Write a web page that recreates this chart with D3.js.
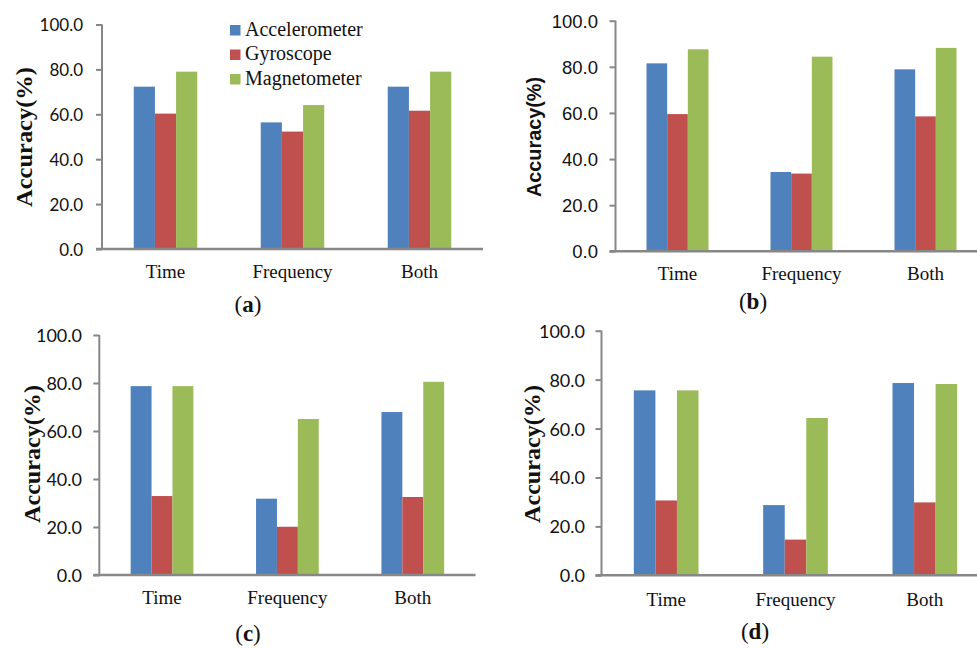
<!DOCTYPE html>
<html>
<head>
<meta charset="utf-8">
<script src="https://cdn.jsdelivr.net/npm/d3@7"></script>
<style>
  html, body { margin: 0; padding: 0; background: #fff; }
  svg { display: block; }
</style>
</head>
<body>
<svg id="chart" width="977" height="648"></svg>
<script>
// ---- data ----
const categories = ["Time", "Frequency", "Both"];
const seriesNames = ["Accelerometer", "Gyroscope", "Magnetometer"];
const yTickValues = [0, 20, 40, 60, 80, 100];
const panelLabels = ["a", "b", "c", "d"];

const accelA = [72.3, 56.4, 72.3];
const gyroA  = [60.3, 52.3, 61.6];
const magA   = [79.0, 64.1, 79.0];

const accelB = [81.5, 34.4, 78.9];
const gyroB  = [59.5, 33.7, 58.5];
const magB   = [87.6, 84.4, 88.2];

const accelC = [78.7, 31.8, 67.9];
const gyroC  = [32.9, 20.1, 32.5];
const magC   = [78.7, 65.0, 80.5];

const accelD = [75.6, 28.7, 78.6];
const gyroD  = [30.6, 14.6, 29.8];
const magD   = [75.6, 64.3, 78.2];

const colors = ["#4F81BD", "#C0504D", "#9BBB59"];
const axisColor = "#878787";

// ---- layout (positions only) ----
const panels = [
  { label: "a", data: [accelA, gyroA, magA], x0: 102, x1: 483, yTop: 24.5, yBot: 249,
    tickFont: "Lato, 'Open Sans', sans-serif", tickSize: 17, tickRight: 83,
    yTitleFont: "'Liberation Serif', 'Times New Roman', serif", yTitleSize: 23, yTitleLen: 140, yTitleX: 23.5, yTitleY: 137,
    catBase: 278, panX: 248, panBase: 312, legend: true },
  { label: "b", data: [accelB, gyroB, magB], x0: 615.5, x1: 987.5, yTop: 20.7, yBot: 251.3,
    tickFont: "'Liberation Sans', Arial, sans-serif", tickSize: 18.5, tickRight: 598,
    yTitleFont: "'Liberation Sans', Arial, sans-serif", yTitleSize: 20, yTitleLen: 120, yTitleX: 533.5, yTitleY: 137,
    catBase: 280, panX: 753, panBase: 309, legend: false },
  { label: "c", data: [accelC, gyroC, magC], x0: 99.3, x1: 475.5, yTop: 335, yBot: 575,
    tickFont: "Lato, 'Open Sans', sans-serif", tickSize: 18, tickRight: 82,
    yTitleFont: "'Liberation Serif', 'Times New Roman', serif", yTitleSize: 23, yTitleLen: 138, yTitleX: 31.7, yTitleY: 454,
    catBase: 604, panX: 248, panBase: 641, legend: false },
  { label: "d", data: [accelD, gyroD, magD], x0: 601.5, x1: 989.5, yTop: 330.7, yBot: 575.3,
    tickFont: "Lato, 'Open Sans', sans-serif", tickSize: 18, tickRight: 585,
    yTitleFont: "'Liberation Serif', 'Times New Roman', serif", yTitleSize: 23, yTitleLen: 138, yTitleX: 531.7, yTitleY: 454,
    catBase: 606, panX: 755, panBase: 639, legend: false }
];

const svg = d3.select("#chart");
const serifFont = "'Liberation Serif', 'Times New Roman', serif";

panels.forEach(p => {
  const g = svg.append("g");
  const x = d3.scaleBand().domain(categories).range([p.x0, p.x1]).paddingInner(0.5).paddingOuter(0.25);
  const xs = d3.scaleBand().domain(seriesNames).range([0, x.bandwidth()]);
  const y = d3.scaleLinear().domain([0, 100]).range([p.yBot, p.yTop]);

  // bars
  seriesNames.forEach((s, si) => {
    g.selectAll(null)
      .data(categories.map((c, ci) => ({ c, v: p.data[si][ci] })))
      .join("rect")
      .attr("x", d => x(d.c) + xs(s))
      .attr("y", d => y(d.v))
      .attr("width", xs.bandwidth())
      .attr("height", d => y(0) - y(d.v))
      .attr("fill", colors[si]);
  });

  // y axis
  const yAxis = d3.axisLeft(y).tickValues(yTickValues).tickSize(6).tickPadding(0)
    .tickFormat(d3.format(".1f"));
  const ya = g.append("g").attr("transform", `translate(${p.x0},0)`).call(yAxis);
  ya.select(".domain").remove();
  ya.selectAll(".tick line").attr("stroke", axisColor).attr("stroke-width", 2);
  ya.selectAll(".tick text")
    .attr("x", p.tickRight - p.x0)
    .attr("text-anchor", "end")
    .attr("dy", "0.36em")
    .attr("fill", "#111")
    .style("font-family", p.tickFont)
    .style("font-size", p.tickSize + "px");
  g.append("line").attr("x1", p.x0).attr("x2", p.x0).attr("y1", p.yTop).attr("y2", p.yBot)
    .attr("stroke", axisColor).attr("stroke-width", 2);

  // x axis
  const xAxis = d3.axisBottom(x).tickSize(0).tickPadding(0);
  const xa = g.append("g").attr("transform", `translate(0,${p.yBot})`).call(xAxis);
  xa.select(".domain").remove();
  xa.selectAll(".tick text")
    .attr("y", p.catBase - p.yBot)
    .attr("dy", 0)
    .attr("fill", "#111")
    .style("font-family", serifFont)
    .style("font-size", "19px");
  g.append("line").attr("x1", p.x0 - 6).attr("x2", p.x1).attr("y1", p.yBot).attr("y2", p.yBot)
    .attr("stroke", axisColor).attr("stroke-width", 2.5);

  // y title
  g.append("text")
    .attr("transform", `translate(${p.yTitleX},${p.yTitleY}) rotate(-90)`)
    .attr("text-anchor", "middle")
    .attr("dy", "0.35em")
    .attr("textLength", p.yTitleLen)
    .attr("lengthAdjust", "spacingAndGlyphs")
    .attr("font-weight", "bold")
    .attr("fill", "#111")
    .style("font-family", p.yTitleFont)
    .style("font-size", p.yTitleSize + "px")
    .text("Accuracy(%)");

  // panel label
  const pl = g.append("text")
    .attr("x", p.panX).attr("y", p.panBase)
    .attr("text-anchor", "middle")
    .attr("fill", "#111")
    .style("font-family", serifFont)
    .style("font-size", "23px");
  pl.append("tspan").text("(");
  pl.append("tspan").attr("font-weight", "bold").text(p.label);
  pl.append("tspan").text(")");

  // legend
  if (p.legend) {
    const lg = g.append("g");
    seriesNames.forEach((s, si) => {
      const row = lg.append("g").attr("transform", `translate(230,${25 + si * 24.5})`);
      row.append("rect").attr("width", 10.5).attr("height", 10.5).attr("fill", colors[si]);
      row.append("text").attr("x", 15).attr("y", 10.5)
        .attr("fill", "#111")
        .style("font-family", serifFont)
        .style("font-size", "20px")
        .text(s);
    });
  }
});
</script>
</body>
</html>
